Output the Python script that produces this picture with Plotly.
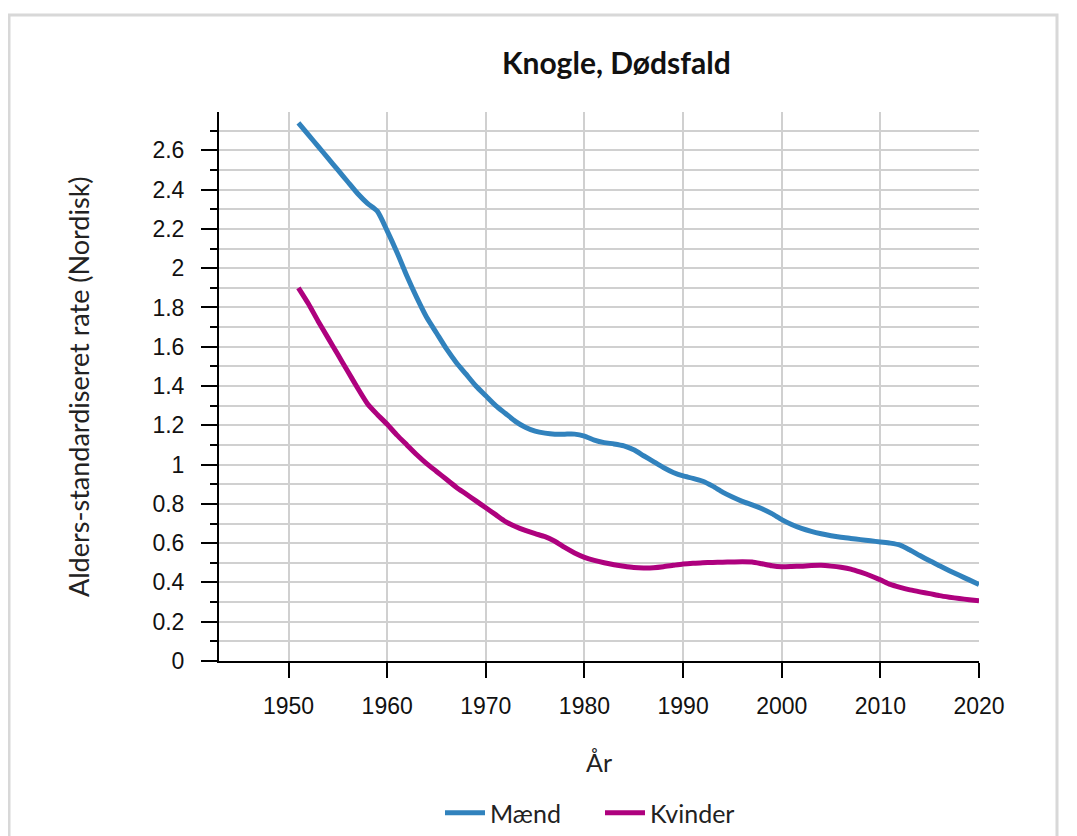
import plotly.graph_objects as go

years = list(range(1951, 2021))

maend = [2.74, 2.68, 2.62, 2.56, 2.50, 2.44, 2.38, 2.33, 2.29, 2.19,
         2.08, 1.96, 1.85, 1.75, 1.67, 1.59, 1.52, 1.46, 1.40, 1.35,
         1.30, 1.26, 1.22, 1.19, 1.17, 1.16, 1.155, 1.155, 1.155, 1.145,
         1.125, 1.112, 1.105, 1.095, 1.075, 1.045, 1.015, 0.985, 0.960, 0.942,
         0.930, 0.915, 0.89, 0.86, 0.835, 0.813, 0.795, 0.775, 0.75, 0.72,
         0.695, 0.675, 0.66, 0.648, 0.638, 0.63, 0.624, 0.618, 0.612, 0.606,
         0.600, 0.590, 0.565, 0.537, 0.51, 0.485, 0.46, 0.436, 0.413, 0.39]

kvinder = [1.90, 1.82, 1.73, 1.645, 1.56, 1.475, 1.39, 1.31, 1.255, 1.205,
           1.15, 1.10, 1.05, 1.005, 0.965, 0.925, 0.885, 0.85, 0.815, 0.78,
           0.745, 0.71, 0.685, 0.665, 0.648, 0.633, 0.61, 0.578, 0.55, 0.528,
           0.512, 0.500, 0.49, 0.482, 0.476, 0.474, 0.475, 0.48, 0.487, 0.494,
           0.498, 0.500, 0.502, 0.503, 0.504, 0.505, 0.504, 0.495, 0.485, 0.48,
           0.481, 0.483, 0.486, 0.487, 0.483, 0.477, 0.468, 0.452, 0.434, 0.413,
           0.39, 0.375, 0.362, 0.352, 0.343, 0.333, 0.325, 0.318, 0.312, 0.306]

series_names = ["Mænd", "Kvinder"]
series_colors = ["#3182bd", "#ae017e"]
x_ticks = [1950, 1960, 1970, 1980, 1990, 2000, 2010, 2020]
y_ticks = [0, 0.2, 0.4, 0.6, 0.8, 1, 1.2, 1.4, 1.6, 1.8, 2, 2.2, 2.4, 2.6]
y_ticktext = ["0", "0.2", "0.4", "0.6", "0.8", "1", "1.2", "1.4", "1.6", "1.8", "2", "2.2", "2.4", "2.6"]

title_text = "Knogle, Dødsfald"
x_title = "År"
y_title = "Alders-standardiseret rate (Nordisk)"

# page body margin shifts the figure by 8px; work in reference screen px
OFF = 8
W, H = 1077 - OFF, 836 - OFF
plot_left, plot_right, plot_top, plot_bottom = 219 - OFF, 979 - OFF, 112 - OFF, 661 - OFF
L, R, T, B = plot_left, W - plot_right, plot_top, H - plot_bottom
pw, ph = plot_right - plot_left, plot_bottom - plot_top

def px_x(px):
    return (px - OFF - L) / pw

def px_y(py):
    return (plot_bottom - (py - OFF)) / ph

fig = go.Figure()
for name, vals, col in zip(series_names, [maend, kvinder], series_colors):
    fig.add_trace(go.Scatter(x=years, y=vals, name=name, mode="lines",
                             line=dict(color=col, width=5, shape="spline", smoothing=0.6)))

grid_col = "#d0d0d0"
fig.update_layout(
    width=W, height=H,
    margin=dict(l=L, r=R, t=T, b=B, autoexpand=False),
    paper_bgcolor="white", plot_bgcolor="white",
    showlegend=True,
    legend=dict(orientation="h", x=px_x(600), xanchor="center",
                y=px_y(813), yanchor="middle",
                font=dict(family="Lato", size=25, color="#222"),
                itemwidth=40, entrywidth=105, entrywidthmode="pixels"),
    xaxis=dict(range=[1942.95, 2020], tickvals=x_ticks, ticktext=[str(v) for v in x_ticks],
               showgrid=True, gridcolor=grid_col, gridwidth=1.5,
               showline=True, linecolor="black", linewidth=2,
               ticks="outside", ticklen=15, tickwidth=2, tickcolor="black",
               tickfont=dict(family="Liberation Sans", size=23, color="#111"),
               ticklabelstandoff=8, zeroline=False),
    yaxis=dict(range=[0, 2.795], tickvals=y_ticks, ticktext=y_ticktext,
               showgrid=True, gridcolor=grid_col, gridwidth=1.5,
               showline=True, linecolor="black", linewidth=2,
               ticks="outside", ticklen=16, tickwidth=2, tickcolor="black",
               tickfont=dict(family="Liberation Sans", size=23, color="#111"),
               ticklabelstandoff=12, zeroline=False,
               minor=dict(dtick=0.1, tick0=0, showgrid=True, gridcolor=grid_col, gridwidth=1.5,
                          ticks="outside", ticklen=7, tickwidth=2, tickcolor="black")),
    annotations=[
        dict(text=f"<b>{title_text}</b>", xref="paper", yref="paper",
             x=px_x(616), y=px_y(62), xanchor="center", yanchor="middle",
             showarrow=False, font=dict(family="Lato", size=30, color="#111")),
        dict(text=x_title, xref="paper", yref="paper",
             x=px_x(599), y=px_y(762), xanchor="center", yanchor="middle",
             showarrow=False, font=dict(family="Lato", size=25, color="#222")),
        dict(text=y_title, xref="paper", yref="paper", textangle=-90,
             x=px_x(78), y=px_y(387), xanchor="center", yanchor="middle",
             showarrow=False, font=dict(family="Lato", size=27, color="#222")),
    ],
    shapes=[
        dict(type="rect", xref="paper", yref="paper",
             x0=px_x(9), x1=px_x(1057),
             y0=px_y(870), y1=px_y(15),
             line=dict(color="#d8d8d8", width=3), fillcolor="rgba(0,0,0,0)", layer="below"),
    ],
)

fig.write_html("out.html")
